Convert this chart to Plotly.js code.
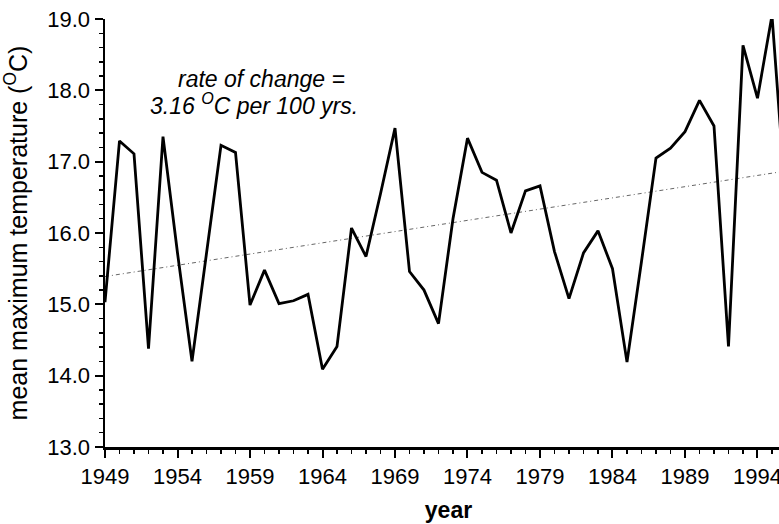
<!DOCTYPE html>
<html>
<head>
<meta charset="utf-8">
<script src="https://cdn.plot.ly/plotly-3.0.1.min.js"></script>
<style>
html,body{margin:0;padding:0;background:#fff;overflow:hidden;width:779px;height:524px;}
#chart{width:792px;height:524px;}
</style>
</head>
<body>
<div id="chart"></div>
<script>
const years = [1949,1950,1951,1952,1953,1954,1955,1956,1957,1958,
  1959,1960,1961,1962,1963,1964,1965,1966,1967,1968,
  1969,1970,1971,1972,1973,1974,1975,1976,1977,1978,
  1979,1980,1981,1982,1983,1984,1985,1986,1987,1988,
  1989,1990,1991,1992,1993,1994,1995,1996];
const meanMaxTemp = [15.03,17.29,17.11,14.38,17.35,15.72,14.20,15.75,17.23,17.13,
  14.99,15.48,15.01,15.05,15.14,14.09,14.41,16.07,15.67,16.55,
  17.47,15.46,15.20,14.73,16.20,17.33,16.85,16.74,16.00,16.59,
  16.66,15.74,15.08,15.72,16.03,15.50,14.19,15.60,17.05,17.19,
  17.42,17.86,17.50,14.41,18.63,17.89,19.05,16.30];
const trendYears = [1949, 1996];
const trendValues = [15.39, 16.87];
const yTickVals = [13,14,15,16,17,18,19];
const xTickVals = [1949,1954,1959,1964,1969,1974,1979,1984,1989,1994];
const rateLine1 = 'rate of change =';
const rateLine2 = '3.16 <sup>O</sup>C per 100 yrs.';

const FONT = '"Liberation Sans", Arial, Helvetica, sans-serif';

const traces = [
  {
    x: trendYears, y: trendValues, type: 'scatter', mode: 'lines',
    line: {color: '#666', width: 1, dash: '4px,3px,1px,3px'},
    hoverinfo: 'skip', showlegend: false
  },
  {
    x: years, y: meanMaxTemp, type: 'scatter', mode: 'lines',
    line: {color: '#000', width: 2.8},
    showlegend: false
  }
];

const layout = {
  width: 792, height: 524,
  margin: {l: 104.5, r: 0, t: 19, b: 77},
  paper_bgcolor: '#fff', plot_bgcolor: '#fff',
  font: {family: FONT, color: '#000', size: 22},
  showlegend: false,
  xaxis: {
    range: [1949, 1996.38],
    tickmode: 'array', tickvals: xTickVals, ticktext: xTickVals.map(String),
    ticks: 'outside', ticklen: 8, tickwidth: 2, tickcolor: '#000',
    minor: {dtick: 1, tick0: 1949, ticks: 'outside', ticklen: 4, tickwidth: 1.5, tickcolor: '#000', showgrid: false},
    showline: true, linecolor: '#000', linewidth: 2.5,
    showgrid: false, zeroline: false,
    tickfont: {size: 22},
    title: {text: '<b>year</b>', font: {size: 23}, standoff: 14}
  },
  yaxis: {
    range: [13, 19],
    tickmode: 'array', tickvals: yTickVals, ticktext: yTickVals.map(v => v.toFixed(1)),
    ticks: 'outside', ticklen: 8, tickwidth: 2, tickcolor: '#000',
    minor: {dtick: 0.2, tick0: 13, ticks: 'outside', ticklen: 4, tickwidth: 1.5, tickcolor: '#000', showgrid: false},
    showline: true, linecolor: '#000', linewidth: 2.5,
    showgrid: false, zeroline: false,
    tickfont: {size: 22},
    title: {text: 'mean maximum temperature (<sup>O</sup>C)', font: {size: 25}, standoff: 13}
  },
  annotations: [
    {xref: 'paper', yref: 'paper', x: 0.2274, y: 0.8606, xanchor: 'center', yanchor: 'middle',
     text: '<i>' + rateLine1 + '</i>', showarrow: false, font: {size: 23}},
    {xref: 'paper', yref: 'paper', x: 0.2168, y: 0.8006, xanchor: 'center', yanchor: 'middle',
     text: '<i>' + rateLine2 + '</i>', showarrow: false, font: {size: 23}}
  ]
};

Plotly.newPlot('chart', traces, layout, {displayModeBar: false, staticPlot: true});
</script>
</body>
</html>
